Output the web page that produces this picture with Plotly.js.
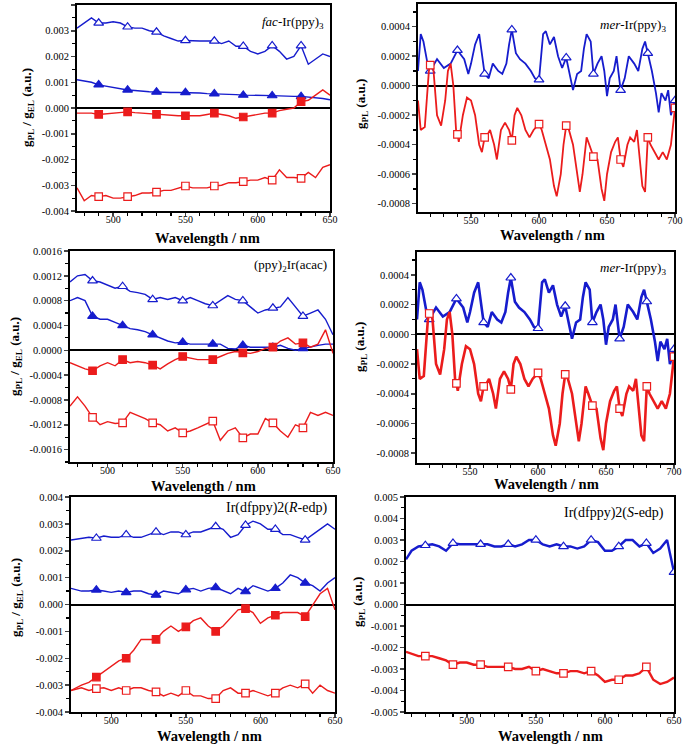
<!DOCTYPE html>
<html>
<head>
<meta charset="utf-8">
<script src="https://cdn.plot.ly/plotly-3.0.1.min.js"></script>
<style>html,body{margin:0;padding:0;background:#fff;}#chart{width:685px;height:748px;}</style>
</head>
<body>
<div id="chart"></div>
<script>
// ---------------- DATA ----------------
// Panel 1: fac-Ir(ppy)3
const wl1 = [475,480,485,490,495,500,505,510,515,520,525,530,535,540,545,550,555,560,565,570,575,580,585,590,595,600,605,610,615,620,625,630,635,640,645,650];
const p1OpenTri  = [3.1e-3,3.3e-3,3.5e-3,3.3e-3,3.3e-3,3.35e-3,3.3e-3,3.15e-3,3.1e-3,3.1e-3,3.0e-3,2.95e-3,2.8e-3,2.7e-3,2.6e-3,2.62e-3,2.6e-3,2.6e-3,2.6e-3,2.6e-3,2.5e-3,2.6e-3,2.4e-3,2.4e-3,2.2e-3,2.1e-3,2.2e-3,2.42e-3,2.2e-3,1.9e-3,2.0e-3,2.42e-3,1.7e-3,1.9e-3,2.1e-3,2.0e-3];
const p1FillTri  = [1.1e-3,1.05e-3,1.0e-3,0.9e-3,0.85e-3,0.8e-3,0.75e-3,0.7e-3,0.68e-3,0.65e-3,0.63e-3,0.62e-3,0.6e-3,0.6e-3,0.6e-3,0.6e-3,0.58e-3,0.58e-3,0.56e-3,0.55e-3,0.55e-3,0.55e-3,0.52e-3,0.5e-3,0.5e-3,0.5e-3,0.5e-3,0.48e-3,0.47e-3,0.45e-3,0.45e-3,0.45e-3,0.43e-3,0.4e-3,0.37e-3,0.32e-3];
const p1FillSq   = [-0.2e-3,-0.2e-3,-0.2e-3,-0.25e-3,-0.22e-3,-0.2e-3,-0.18e-3,-0.15e-3,-0.18e-3,-0.2e-3,-0.22e-3,-0.25e-3,-0.28e-3,-0.3e-3,-0.3e-3,-0.3e-3,-0.3e-3,-0.3e-3,-0.25e-3,-0.2e-3,-0.25e-3,-0.3e-3,-0.4e-3,-0.35e-3,-0.3e-3,-0.25e-3,-0.2e-3,-0.2e-3,-0.1e-3,-0.05e-3,0.0,0.25e-3,0.3e-3,0.5e-3,0.7e-3,0.5e-3];
const p1OpenSq   = [-3.1e-3,-3.6e-3,-3.4e-3,-3.44e-3,-3.4e-3,-3.5e-3,-3.5e-3,-3.44e-3,-3.4e-3,-3.3e-3,-3.3e-3,-3.27e-3,-3.2e-3,-3.2e-3,-3.1e-3,-3.03e-3,-3.1e-3,-3.1e-3,-3.1e-3,-3.03e-3,-3.0e-3,-2.9e-3,-2.9e-3,-2.86e-3,-2.8e-3,-2.8e-3,-2.7e-3,-2.8e-3,-2.4e-3,-2.7e-3,-2.7e-3,-2.73e-3,-2.5e-3,-2.7e-3,-2.3e-3,-2.2e-3];
const p1Marks = [490,510,530,550,570,590,610,630];

// Panel 2 and 4: mer-Ir(ppy)3 (same spectra)
const wlMerBlue = [511,513,515,518,520,525,530,535,540,545,548,550,553,556,560,563,566,570,573,576,578,580,583,586,590,594,597,600,603,605,608,611,614,617,620,623,625,628,631,633,635,638,640,643,646,648,650,652,655,657,660,663,666,670,673,676,678,680,683,686,688,690,693,695,697,700];
const merBlue = [1.0e-4,3.5e-4,3.0e-4,1.5e-4,1.0e-4,1.8e-4,1.2e-4,1.5e-4,2.4e-4,1.8e-4,0.8e-4,1.5e-4,2.8e-4,3.5e-4,0.8e-4,0.5e-4,1.5e-4,1.0e-4,0.8e-4,1.5e-4,2.8e-4,3.8e-4,2.2e-4,1.8e-4,1.5e-4,1.0e-4,0.5e-4,0.4e-4,3.5e-4,3.7e-4,2.8e-4,3.3e-4,2.0e-4,1.2e-4,1.9e-4,0.5e-4,-0.3e-4,0.8e-4,1.0e-4,2.5e-4,3.5e-4,3.0e-4,0.8e-4,1.5e-4,2.0e-4,1.0e-4,-0.7e-4,0.5e-4,1.0e-4,2.0e-4,-0.3e-4,0.5e-4,2.0e-4,1.5e-4,1.0e-4,2.5e-4,3.0e-4,2.2e-4,1.0e-4,-0.5e-4,-1.8e-4,-0.5e-4,-1.0e-4,-0.3e-4,-2.0e-4,-1.0e-4];
const wlMerRed = [511,513,516,519,520,522,525,528,531,533,535,537,539,540,541,544,547,550,553,556,558,560,561,564,567,569,572,575,578,580,582,584,587,590,593,596,600,602,605,608,611,613,616,618,620,622,625,628,630,632,635,637,640,643,646,648,650,653,656,658,660,662,665,667,670,672,674,676,678,680,682,685,688,691,694,697,700];
const merRed = [-1.0e-4,-3.0e-4,-2.8e-4,1.0e-4,1.4e-4,1.5e-4,-2.0e-4,-2.7e-4,-1.0e-4,1.0e-4,1.5e-4,0.0,-3.0e-4,-3.3e-4,-3.8e-4,-2.0e-4,-0.8e-4,-1.0e-4,-2.0e-4,-4.0e-4,-4.5e-4,-3.5e-4,-3.5e-4,-3.0e-4,-4.0e-4,-5.0e-4,-3.0e-4,-2.5e-4,-3.0e-4,-3.7e-4,-2.0e-4,-1.5e-4,-2.0e-4,-3.0e-4,-3.5e-4,-3.0e-4,-2.6e-4,-3.0e-4,-4.0e-4,-5.0e-4,-6.8e-4,-7.5e-4,-6.0e-4,-4.0e-4,-2.7e-4,-3.0e-4,-4.0e-4,-6.0e-4,-7.2e-4,-6.0e-4,-3.5e-4,-4.0e-4,-4.8e-4,-5.0e-4,-7.0e-4,-7.8e-4,-6.0e-4,-4.5e-4,-3.8e-4,-3.5e-4,-5.0e-4,-5.5e-4,-4.0e-4,-3.5e-4,-3.8e-4,-3.0e-4,-5.0e-4,-6.8e-4,-7.2e-4,-3.5e-4,-4.0e-4,-4.5e-4,-5.0e-4,-4.5e-4,-5.0e-4,-4.0e-4,-1.5e-4];
const merMarks = [520,540,560,580,600,620,640,660,680,700];

// Panel 3: (ppy)2Ir(acac)
const wl3 = [475,480,485,490,495,500,505,510,515,520,525,530,535,540,545,550,555,560,565,570,575,580,585,590,595,600,605,610,615,620,625,630,635,640,645,650];
const p3OpenTri = [11e-4,12e-4,12.2e-4,11.2e-4,11e-4,10.5e-4,10e-4,10.3e-4,9.5e-4,9.3e-4,9e-4,8.2e-4,8.5e-4,8.2e-4,8.5e-4,8e-4,8.5e-4,8e-4,7.5e-4,7.2e-4,8e-4,8.8e-4,8.2e-4,8e-4,7e-4,6e-4,6.5e-4,6.8e-4,7e-4,8.5e-4,7e-4,5.5e-4,6e-4,6.5e-4,5e-4,2.5e-4];
const p3FillTri = [8e-4,8.5e-4,8e-4,5.5e-4,5e-4,5e-4,4.5e-4,4e-4,3.5e-4,3.3e-4,3e-4,2.5e-4,2e-4,1.5e-4,1.2e-4,1.3e-4,1e-4,1e-4,1e-4,1e-4,1e-4,0.3e-4,0.2e-4,0.8e-4,0.5e-4,0.5e-4,0.5e-4,0.5e-4,0.8e-4,0.3e-4,0.0,0.3e-4,0.5e-4,0.8e-4,1e-4,1e-4];
const p3FillSq = [-2e-4,-2.5e-4,-3e-4,-3.3e-4,-2.5e-4,-2e-4,-2.5e-4,-1.5e-4,-2e-4,-1.8e-4,-2e-4,-2.4e-4,-3e-4,-2.2e-4,-1.5e-4,-1e-4,-1.2e-4,-1.5e-4,-1.5e-4,-1.5e-4,-1e-4,-0.5e-4,-0.2e-4,-0.4e-4,-0.5e-4,-0.2e-4,0.3e-4,0.5e-4,1.5e-4,2e-4,1e-4,1.2e-4,0.5e-4,1e-4,3.3e-4,-0.5e-4];
const p3OpenSq = [-9e-4,-7.5e-4,-9e-4,-10.8e-4,-12e-4,-11.5e-4,-11.8e-4,-11.7e-4,-10e-4,-10.5e-4,-11e-4,-11.7e-4,-12e-4,-13e-4,-12.5e-4,-13.3e-4,-13e-4,-12.5e-4,-12e-4,-11.4e-4,-14.5e-4,-13e-4,-12.5e-4,-14.1e-4,-13.5e-4,-13.5e-4,-11e-4,-11.7e-4,-13e-4,-14e-4,-12e-4,-12.5e-4,-10e-4,-10.5e-4,-10e-4,-10.5e-4];
const p3Marks = [490,510,530,550,570,590,610,630];

// Panel 5: Ir(dfppy)2(R-edp)
const wl5 = [473,480,485,490,495,500,505,510,515,520,525,530,535,540,545,550,555,560,565,570,575,580,585,590,595,600,605,610,615,620,625,630,635,640,645,650];
const p5OpenTri = [2.4e-3,2.45e-3,2.5e-3,2.47e-3,2.55e-3,2.5e-3,2.5e-3,2.6e-3,2.5e-3,2.5e-3,2.6e-3,2.7e-3,2.6e-3,2.7e-3,2.7e-3,2.6e-3,2.7e-3,2.7e-3,2.8e-3,2.9e-3,2.8e-3,2.5e-3,2.6e-3,2.95e-3,3.1e-3,3.0e-3,2.8e-3,2.8e-3,2.6e-3,2.6e-3,2.5e-3,2.4e-3,2.6e-3,2.8e-3,3.0e-3,2.8e-3];
const p5FillTri = [0.6e-3,0.5e-3,0.5e-3,0.54e-3,0.5e-3,0.45e-3,0.5e-3,0.45e-3,0.5e-3,0.5e-3,0.4e-3,0.35e-3,0.5e-3,0.45e-3,0.4e-3,0.55e-3,0.6e-3,0.5e-3,0.6e-3,0.63e-3,0.5e-3,0.4e-3,0.6e-3,0.48e-3,0.7e-3,0.6e-3,0.5e-3,0.6e-3,0.8e-3,1.1e-3,1.0e-3,0.8e-3,0.7e-3,0.5e-3,0.8e-3,1.0e-3];
const p5FillSq = [-3.2e-3,-3.0e-3,-2.9e-3,-2.7e-3,-2.5e-3,-2.3e-3,-2.1e-3,-2.0e-3,-1.7e-3,-1.3e-3,-1.3e-3,-1.3e-3,-1.0e-3,-0.8e-3,-1.0e-3,-0.83e-3,-0.6e-3,-0.5e-3,-0.8e-3,-1.0e-3,-0.8e-3,-0.5e-3,-0.2e-3,-0.15e-3,-0.3e-3,-0.7e-3,-0.5e-3,-0.4e-3,-0.3e-3,-0.3e-3,-0.3e-3,-0.45e-3,0.0,0.4e-3,0.6e-3,-0.2e-3];
const p5OpenSq = [-3.2e-3,-3.1e-3,-3.2e-3,-3.13e-3,-3.1e-3,-3.2e-3,-3.1e-3,-3.2e-3,-3.1e-3,-3.1e-3,-3.2e-3,-3.25e-3,-3.4e-3,-3.3e-3,-3.4e-3,-3.2e-3,-3.4e-3,-3.4e-3,-3.5e-3,-3.5e-3,-3.2e-3,-3.1e-3,-3.3e-3,-3.3e-3,-3.2e-3,-3.3e-3,-3.4e-3,-3.3e-3,-3.1e-3,-3.0e-3,-3.1e-3,-2.95e-3,-3.3e-3,-3.0e-3,-3.2e-3,-3.3e-3];
const p5Marks = [490,510,530,550,570,590,610,630];

// Panel 6: Ir(dfppy)2(S-edp)
const wl6 = [456,460,465,470,475,480,485,490,495,500,505,510,515,520,525,530,535,540,545,550,555,560,565,570,575,580,585,590,595,600,605,610,615,620,625,630,635,640,645,650];
const p6OpenTri = [2.1e-3,2.5e-3,2.7e-3,2.75e-3,2.8e-3,2.7e-3,2.5e-3,2.85e-3,2.8e-3,2.8e-3,2.8e-3,2.8e-3,2.8e-3,2.7e-3,2.7e-3,2.8e-3,2.7e-3,2.8e-3,3.0e-3,3.0e-3,2.8e-3,2.7e-3,2.8e-3,2.7e-3,2.7e-3,2.6e-3,2.7e-3,3.0e-3,2.9e-3,2.5e-3,2.5e-3,2.7e-3,3.0e-3,3.0e-3,2.7e-3,2.85e-3,2.4e-3,2.6e-3,3.0e-3,1.5e-3];
const p6OpenSq = [-2.2e-3,-2.3e-3,-2.4e-3,-2.4e-3,-2.4e-3,-2.5e-3,-2.6e-3,-2.8e-3,-2.7e-3,-2.7e-3,-2.8e-3,-2.8e-3,-2.9e-3,-2.9e-3,-2.9e-3,-2.9e-3,-3.0e-3,-3.0e-3,-2.9e-3,-3.1e-3,-3.0e-3,-3.1e-3,-3.2e-3,-3.2e-3,-3.1e-3,-3.1e-3,-3.2e-3,-3.1e-3,-3.3e-3,-3.6e-3,-3.5e-3,-3.5e-3,-3.3e-3,-3.3e-3,-3.2e-3,-2.9e-3,-3.5e-3,-3.7e-3,-3.6e-3,-3.4e-3];
const p6TriMarks = [470,490,510,530,550,570,590,610,630,650];
const p6SqMarks = [470,490,510,530,550,570,590,610,630];

// Tick labels
const x1Ticks = [500,550,600,650];
const x2Ticks = [550,600,650,700];
const y1Vals = [-0.004,-0.003,-0.002,-0.001,0,0.001,0.002,0.003,0.004];
const y1Text = ["-0.004","-0.003","-0.002","-0.001","0.000","0.001","0.002","0.003","0.004"];
const y2Vals = [-0.0008,-0.0006,-0.0004,-0.0002,0,0.0002,0.0004];
const y2Text = ["-0.0008","-0.0006","-0.0004","-0.0002","0.0000","0.0002","0.0004"];
const y3Vals = [-0.0016,-0.0012,-0.0008,-0.0004,0,0.0004,0.0008,0.0012,0.0016];
const y3Text = ["-0.0016","-0.0012","-0.0008","-0.0004","0.0000","0.0004","0.0008","0.0012","0.0016"];
const y6Vals = [-0.005,-0.004,-0.003,-0.002,-0.001,0,0.001,0.002,0.003,0.004,0.005];
const y6Text = ["-0.005","-0.004","-0.003","-0.002","-0.001","0.000","0.001","0.002","0.003","0.004","0.005"];

// ---------------- STYLE / LAYOUT ----------------
const W = 685, H = 748;
const BLUE = 'rgb(22,28,205)', RED = 'rgb(235,28,28)';
const FONT = 'Liberation Serif, Times New Roman, serif';
const boxes = [
  {x:[77,330], y:[5,211]},
  {x:[418,675], y:[4,212]},
  {x:[70,333], y:[251,462]},
  {x:[417,674], y:[252,463]},
  {x:[71,335], y:[497,712]},
  {x:[406,674], y:[497,712]}
];
const traces = [];
function series(k, xs, ys, color, width, symbol, filled, marks) {
  const ax = k === 1 ? '' : String(k);
  traces.push({x: xs, y: ys, mode: 'lines', line: {color: color, width: width},
    xaxis: 'x' + ax, yaxis: 'y' + ax, hoverinfo: 'skip'});
  const mx = [], my = [];
  xs.forEach((v, i) => { if (marks.includes(v)) { mx.push(v); my.push(ys[i]); } });
  traces.push({x: mx, y: my, mode: 'markers', xaxis: 'x' + ax, yaxis: 'y' + ax, hoverinfo: 'skip',
    marker: {symbol: symbol, size: symbol === 'square' ? 7.5 : 8.5,
      color: filled ? color : 'white', line: {color: color, width: 1.2}}});
}
series(1, wl1, p1OpenTri, BLUE, 1.4, 'triangle-up', false, p1Marks);
series(1, wl1, p1FillTri, BLUE, 1.4, 'triangle-up', true, p1Marks);
series(1, wl1, p1FillSq, RED, 1.4, 'square', true, p1Marks);
series(1, wl1, p1OpenSq, RED, 1.4, 'square', false, p1Marks);
series(2, wlMerBlue, merBlue, BLUE, 1.8, 'triangle-up', false, merMarks);
series(2, wlMerRed, merRed, RED, 1.8, 'square', false, merMarks);
series(3, wl3, p3OpenTri, BLUE, 1.4, 'triangle-up', false, p3Marks);
series(3, wl3, p3FillTri, BLUE, 1.4, 'triangle-up', true, p3Marks);
series(3, wl3, p3FillSq, RED, 1.4, 'square', true, p3Marks);
series(3, wl3, p3OpenSq, RED, 1.4, 'square', false, p3Marks);
series(4, wlMerBlue, merBlue, BLUE, 2.6, 'triangle-up', false, merMarks);
series(4, wlMerRed, merRed, RED, 2.6, 'square', false, merMarks);
series(5, wl5, p5OpenTri, BLUE, 1.4, 'triangle-up', false, p5Marks);
series(5, wl5, p5FillTri, BLUE, 1.4, 'triangle-up', true, p5Marks);
series(5, wl5, p5FillSq, RED, 1.4, 'square', true, p5Marks);
series(5, wl5, p5OpenSq, RED, 1.4, 'square', false, p5Marks);
series(6, wl6, p6OpenTri, BLUE, 2.4, 'triangle-up', false, p6TriMarks);
series(6, wl6, p6OpenSq, RED, 2.4, 'square', false, p6SqMarks);

const panelCfg = [
  {xr:[475,650], xt:x1Ticks, yr:[-0.004,0.004], yv:y1Vals, yt:y1Text, ym:0.0005},
  {xr:[511,700], xt:x2Ticks, yr:[-0.000856,0.000554], yv:y2Vals, yt:y2Text, ym:0.0001},
  {xr:[475,650], xt:x1Ticks, yr:[-0.0018,0.0016], yv:y3Vals, yt:y3Text, ym:0.0002},
  {xr:[511,700], xt:x2Ticks, yr:[-0.000866,0.000554], yv:y2Vals, yt:y2Text, ym:0.0001},
  {xr:[473,650], xt:x1Ticks, yr:[-0.004,0.004], yv:y1Vals, yt:y1Text, ym:0.0005},
  {xr:[456,650], xt:x1Ticks, yr:[-0.005,0.005], yv:y6Vals, yt:y6Text, ym:0.0005}
];

const layout = {
  width: W, height: H, margin: {l:0, r:0, t:0, b:0},
  paper_bgcolor: 'white', plot_bgcolor: 'white', showlegend: false,
  font: {family: FONT, size: 11, color: 'black'},
  annotations: []
};
panelCfg.forEach((c, i) => {
  const k = i + 1, ax = k === 1 ? '' : String(k);
  const b = boxes[i];
  layout['xaxis' + ax] = {
    domain: [b.x[0] / W, b.x[1] / W], range: c.xr, anchor: 'y' + ax,
    tickvals: c.xt, ticktext: c.xt.map(String), ticks: 'outside', ticklen: 3, tickwidth: 1.5,
    ticklabelstandoff: -5,
    showline: true, linewidth: 2, linecolor: 'black', mirror: true,
    showgrid: false, zeroline: false, tickfont: {family: FONT, size: 10},
    minor: {dtick: 10, tick0: 500, ticks: 'outside', ticklen: 2.5, tickwidth: 1.2, tickcolor: 'black', showgrid: false}
  };
  layout['yaxis' + ax] = {
    domain: [1 - b.y[1] / H, 1 - b.y[0] / H], range: c.yr, anchor: 'x' + ax,
    tickvals: c.yv, ticktext: c.yt, ticks: 'outside', ticklen: 4, tickwidth: 1.5,
    showline: true, linewidth: 2, linecolor: 'black', mirror: true,
    showgrid: false, zeroline: true, zerolinecolor: 'black', zerolinewidth: 2,
    tickfont: {family: FONT, size: 10.5},
    minor: {dtick: c.ym, tick0: 0, ticks: 'outside', ticklen: 3, tickwidth: 1.2, tickcolor: 'black', showgrid: false}
  };
});

function ann(text, xpx, ypx, opts) {
  layout.annotations.push(Object.assign({
    text: text, xref: 'paper', yref: 'paper', x: xpx / W, y: 1 - ypx / H,
    showarrow: false, xanchor: 'center', yanchor: 'middle',
    font: {family: FONT, size: 14.5, color: 'black', weight: 'bold'}
  }, opts || {}));
}
// x-axis titles
const xTitle = 'Wavelength / nm';
ann(xTitle, 207, 238); ann(xTitle, 552, 235); ann(xTitle, 203, 486);
ann(xTitle, 546, 484); ann(xTitle, 209, 736); ann(xTitle, 550, 736);
// y-axis titles
const yTitleRatio = 'g<sub>PL</sub> / g<sub>EL</sub> (a.u.)';
const yTitlePL = 'g<sub>PL</sub> (a.u.)';
const yFont = {family: FONT, size: 13, color: 'black', weight: 'bold'};
ann(yTitleRatio, 27, 108, {textangle: -90, font: yFont});
ann(yTitlePL, 361, 104, {textangle: -90, font: yFont});
ann(yTitleRatio, 15, 357, {textangle: -90, font: yFont});
ann(yTitlePL, 360, 347, {textangle: -90, font: yFont});
ann(yTitleRatio, 16, 598, {textangle: -90, font: yFont});
ann(yTitlePL, 358, 602, {textangle: -90, font: yFont});
// panel labels
const lab = {family: FONT, size: 13, color: 'black'};
ann('<i>fac</i>-Ir(ppy)<sub>3</sub>', 326, 22, {xanchor: 'right', font: lab});
ann('<i>mer</i>-Ir(ppy)<sub>3</sub>', 668, 25, {xanchor: 'right', font: lab});
ann('(ppy)<sub>2</sub>Ir(acac)', 329, 265, {xanchor: 'right', font: lab});
ann('<i>mer</i>-Ir(ppy)<sub>3</sub>', 668, 268, {xanchor: 'right', font: lab});
ann('Ir(dfppy)2(<i>R</i>-edp)', 329, 508, {xanchor: 'right', font: {family: FONT, size: 14, color: 'black'}});
ann('Ir(dfppy)2(<i>S</i>-edp)', 666, 513, {xanchor: 'right', font: {family: FONT, size: 14, color: 'black'}});

Plotly.newPlot('chart', traces, layout, {staticPlot: true, displayModeBar: false});
</script>
</body>
</html>
